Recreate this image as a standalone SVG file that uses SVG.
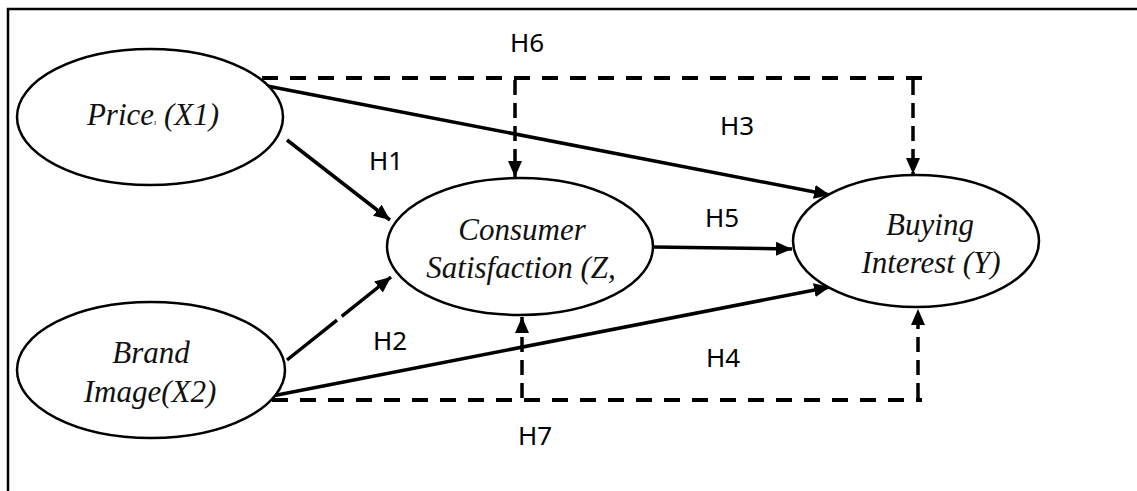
<svg xmlns="http://www.w3.org/2000/svg" width="1137" height="491" viewBox="0 0 1137 491">
<style>
.node{fill:#fff;stroke:#000;stroke-width:2.5}
.nt{font-family:"Liberation Serif",serif;font-style:italic;font-size:31px;fill:#111;text-anchor:middle}
.lbl{font-family:"Noto Sans","Liberation Sans",sans-serif;font-size:26px;fill:#000;text-anchor:middle}
.solid{fill:none;stroke:#000;stroke-width:3.5}
.dash{fill:none;stroke:#000;stroke-width:4;stroke-dasharray:16 12}
.vdash{fill:none;stroke:#000;stroke-width:3.5;stroke-dasharray:15 8}
</style>
<defs>
<marker id="ah" markerUnits="userSpaceOnUse" markerWidth="18" markerHeight="16" refX="16" refY="8" orient="auto">
<path d="M0,1 L16,8 L0,15 Z" fill="#000"/>
</marker>
</defs>
<rect width="1137" height="491" fill="#fff"/>
<path d="M8,491 V9 H1137" fill="none" stroke="#000" stroke-width="2.5"/>
<g id="connectors">
<path class="solid" d="M262,85 L830,195" marker-end="url(#ah)"/>
<path class="solid" d="M287,140 L390,220" marker-end="url(#ah)"/>
<path class="solid" d="M653,247 L792,249" marker-end="url(#ah)"/>
<path class="solid" d="M287,360 L391,277" stroke-dasharray="64 6 80" marker-end="url(#ah)"/>
<path class="solid" d="M272,396 L830,287" marker-end="url(#ah)"/>
<path class="dash" d="M262,78 H922"/>
<path class="vdash" d="M515,80 V177" marker-end="url(#ah)"/>
<path class="vdash" d="M913,80 V174" marker-end="url(#ah)"/>
<path class="dash" d="M272,400 H922"/>
<path class="vdash" d="M522,398 V317" marker-end="url(#ah)"/>
<path class="vdash" d="M918,398 V309" marker-end="url(#ah)"/>
</g>
<g id="price">
<ellipse class="node" cx="150" cy="117" rx="133" ry="68"/>
<text class="nt" x="153" y="125">Price<tspan font-size="8">ı</tspan> (X1)</text>
</g>
<g id="brand">
<ellipse class="node" cx="151" cy="370" rx="134" ry="68"/>
<text class="nt" x="151" y="363">Brand</text>
<text class="nt" x="150" y="402">Image(X2)</text>
</g>
<g id="consumer">
<ellipse class="node" cx="520" cy="246.5" rx="133" ry="68.5"/>
<text class="nt" x="522" y="240">Consumer</text>
<text class="nt" x="521" y="278">Satisfaction (Z,</text>
</g>
<g id="buying">
<ellipse class="node" cx="916" cy="241" rx="123" ry="66"/>
<text class="nt" x="930" y="235">Buying</text>
<text class="nt" x="931" y="273">Interest (Y)</text>
</g>
<g id="labels">
<text class="lbl" x="527" y="52">H6</text>
<text class="lbl" x="737" y="135">H3</text>
<text class="lbl" x="386" y="170">H1</text>
<text class="lbl" x="722" y="227">H5</text>
<text class="lbl" x="390" y="350">H2</text>
<text class="lbl" x="723" y="367">H4</text>
<text class="lbl" x="535" y="445">H7</text>
</g>
</svg>
